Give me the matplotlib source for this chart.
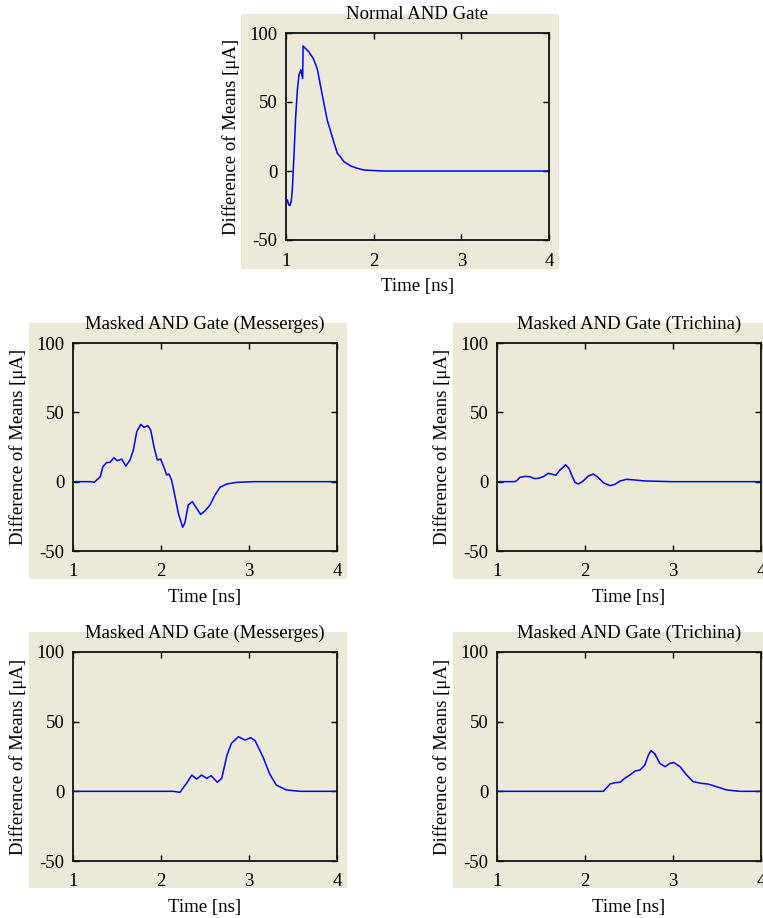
import numpy as np
import matplotlib
matplotlib.use("Agg")
import matplotlib.pyplot as plt
from matplotlib.patches import Rectangle

plt.rcParams['font.family'] = ['Liberation Serif', 'DejaVu Serif']
plt.rcParams['axes.unicode_minus'] = False
plt.rcParams['font.size'] = 13.5

t_normal = [1.0, 1.015, 1.03, 1.045, 1.06, 1.072, 1.09, 1.11, 1.13, 1.148, 1.17, 1.19, 1.195,
            1.22, 1.26, 1.31, 1.34, 1.36, 1.41, 1.47, 1.55, 1.585, 1.62, 1.66, 1.74, 1.81,
            1.89, 2.1, 4.0]
v_normal = [-21, -21, -24.5, -25, -22, -13.8, 10, 39, 59, 69.6, 73.3, 67, 90.6,
            89, 86.4, 81.6, 77, 73, 56.3, 37, 20, 12.8, 10.4, 6.8, 3.6, 2,
            0.7, 0, 0]

t_mess1 = [1.0, 1.21, 1.24, 1.27, 1.31, 1.34, 1.38, 1.42, 1.466, 1.50, 1.553, 1.60, 1.648,
           1.686, 1.724, 1.77, 1.807, 1.85, 1.883, 1.92, 1.958, 1.996, 2.034, 2.064, 2.09,
           2.12, 2.16, 2.197, 2.246, 2.27, 2.31, 2.356, 2.405, 2.45, 2.5, 2.557, 2.614,
           2.67, 2.746, 2.86, 3.05, 4.0]
v_mess1 = [0, 0, -0.5, 1.2, 3.6, 10.8, 13.7, 13.9, 17.3, 15.1, 16.3, 11.3, 15.6,
           22.8, 36, 41.3, 39.2, 40.4, 37.2, 25.2, 15.6, 16.3, 10.3, 4.8, 5.5,
           1.2, -10.8, -22.8, -32.9, -30, -16.8, -14.4, -19.2, -23.6, -21.1, -16.8, -9.6,
           -4.1, -1.7, -0.5, 0, 0]

t_tri1 = [1.0, 1.2, 1.224, 1.26, 1.318, 1.375, 1.424, 1.47, 1.526, 1.583, 1.62, 1.667,
          1.716, 1.78, 1.818, 1.856, 1.886, 1.924, 1.97, 2.04, 2.094, 2.15, 2.208, 2.284,
          2.34, 2.4, 2.47, 2.57, 2.68, 3.0, 4.0]
v_tri1 = [0, 0, 0.7, 3.1, 3.8, 3.6, 2.2, 2.4, 3.6, 6, 5.5, 4.6,
          8.4, 12.2, 9.6, 3.6, -0.5, -1.7, 0, 4.1, 5.5, 3.1, -0.7, -2.9,
          -1.9, 0.5, 1.7, 1.2, 0.5, 0, 0]

t_mess2 = [1.0, 2.14, 2.216, 2.29, 2.35, 2.405, 2.46, 2.52, 2.57, 2.64, 2.69, 2.75, 2.80,
           2.88, 2.955, 3.02, 3.07, 3.16, 3.235, 3.31, 3.425, 3.58, 4.0]
v_mess2 = [0, 0, -0.7, 5.7, 11.7, 8.8, 11.7, 9.3, 11.2, 6.5, 9.3, 26, 34.4,
           39.2, 36.8, 38.5, 36.3, 24.5, 12.5, 4.5, 1.0, 0, 0]

t_tri2 = [1.0, 2.208, 2.284, 2.34, 2.4, 2.45, 2.51, 2.57, 2.625, 2.68, 2.72, 2.75, 2.795,
          2.85, 2.91, 2.966, 3.01, 3.08, 3.155, 3.23, 3.326, 3.40, 3.496, 3.61, 3.76, 4.0]
v_tri2 = [0, 0, 5.2, 6.2, 6.5, 9.3, 11.7, 14.6, 15.3, 18.9, 26, 29.2, 26.8,
          20.1, 17.7, 20.1, 20.6, 17.7, 11.7, 6.9, 5.7, 5.2, 3.3, 1.0, 0, 0]

titles = ["Normal AND Gate", "Masked AND Gate (Messerges)", "Masked AND Gate (Trichina)",
          "Masked AND Gate (Messerges)", "Masked AND Gate (Trichina)"]
series = [(t_normal, v_normal), (t_mess1, v_mess1), (t_tri1, v_tri1),
          (t_mess2, v_mess2), (t_tri2, v_tri2)]

W, H = 763, 918
beige = '#ECE9D8'
fig = plt.figure(figsize=(W / 100, H / 100), dpi=100)

# axes boxes and beige backing panels, in pixels (left, top, right, bottom)
ax_px = [(286, 33, 549, 240), (73, 343, 337, 551), (497, 343, 761, 551),
         (73, 652, 337, 861), (497, 652, 761, 861)]
bg_px = [(241, 14, 559, 269), (29, 323, 347, 579), (453, 323, 770, 579),
         (29, 632, 347, 888), (453, 632, 770, 888)]

for (l, t, r, b) in bg_px:
    fig.patches.append(Rectangle((l / W, 1 - b / H), (r - l) / W, (b - t) / H,
                                 transform=fig.transFigure, facecolor=beige,
                                 edgecolor='none', zorder=-10))

for (l, t, r, b), title, (x, y) in zip(ax_px, titles, series):
    ax = fig.add_axes([l / W, 1 - b / H, (r - l) / W, (b - t) / H])
    ax.set_facecolor(beige)
    ax.plot(x, y, color='#0000ff', lw=1.1)
    ax.set_xlim(1, 4)
    ax.set_ylim(-50, 100)
    ax.set_xticks([1, 2, 3, 4])
    ax.set_yticks([-50, 0, 50, 100])
    ax.tick_params(direction='in', top=True, right=True, length=4, width=1)
    ax.tick_params(axis='x', pad=9)
    ax.tick_params(axis='y', pad=6)
    for s in ax.spines.values():
        s.set_linewidth(1.3)
        s.set_color('#111111')
    ax.set_title(title, pad=10, fontsize=13.5)
    ax.set_xlabel("Time [ns]", labelpad=6)
    ax.set_ylabel("Difference of Means [μA]", labelpad=7)

fig.savefig("out.png", dpi=100, facecolor='white')
